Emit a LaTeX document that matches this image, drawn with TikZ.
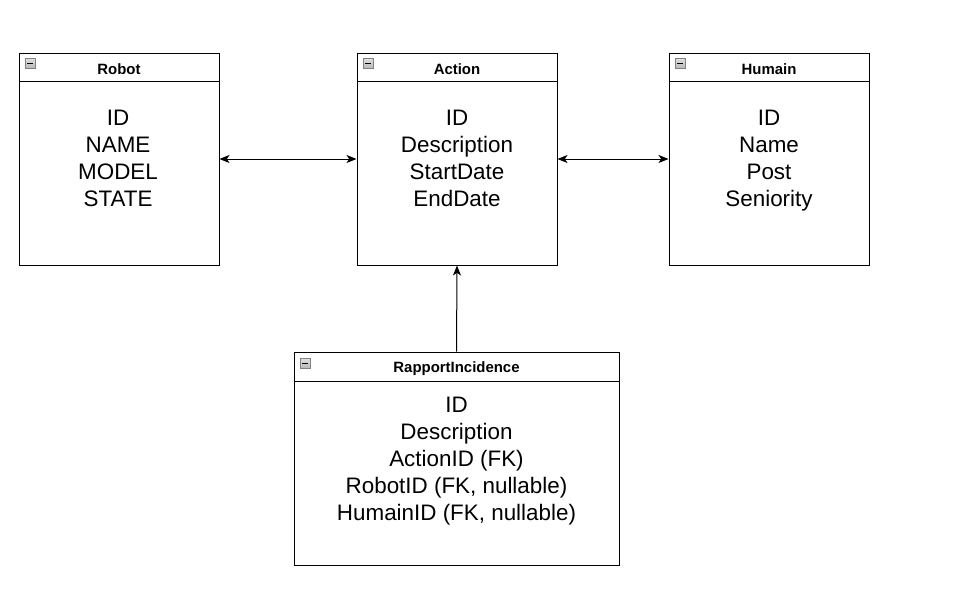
\documentclass[tikz,border=0pt]{standalone}
\usepackage{fontspec}
\setmainfont{Liberation Sans}
\usetikzlibrary{arrows.meta,calc}
\begin{document}
\begin{tikzpicture}[x=0.75pt,y=-0.75pt,
  entity/.style={draw=black,line width=0.75pt,fill=white,rectangle,inner sep=0pt,minimum width=150pt},
  ttl/.style={font=\bfseries\fontsize{11.2}{13}\selectfont,inner sep=0pt},
  body/.style={font=\fontsize{16.8}{20.25}\selectfont,align=center,inner sep=0pt},
  icon/.style={draw={rgb,255:red,130;green,130;blue,130},line width=0.75pt,top color={rgb,255:red,225;green,225;blue,225},bottom color={rgb,255:red,185;green,185;blue,185},rectangle,inner sep=0pt,minimum width=7.5pt,minimum height=7.5pt},
  link/.style={line width=0.75pt,{Stealth[length=7.5pt,width=6pt,inset=2pt]}-{Stealth[length=7.5pt,width=6pt,inset=2pt]}},
  uplink/.style={line width=0.75pt,-{Stealth[length=7.5pt,width=6pt,inset=2pt]}}
]
\useasboundingbox (0,0) rectangle (977,597);
\fill[white] (0,0) rectangle (977,597);

% Robot
\node[entity,minimum height=159pt] (robot) at (119,159) {};
\draw[line width=0.75pt] (19,81) -- (219,81);
\node[icon] (robotIcon) at (30,63) {};
\draw[line width=0.75pt] (27,63) -- (33,63);
\node[ttl] (robotT) at (119,69) {Robot};
\node[body] (robotB) at (118,162.5) {ID\\NAME\\MODEL\\STATE\strut};

% Action
\node[entity,minimum height=159pt] (action) at (457,159) {};
\draw[line width=0.75pt] (357,81) -- (557,81);
\node[icon] (actionIcon) at (368,63) {};
\draw[line width=0.75pt] (365,63) -- (371,63);
\node[ttl] (actionT) at (457,69) {Action};
\node[body] (actionB) at (457,162.5) {ID\\Description\\StartDate\\EndDate\strut};

% Humain
\node[entity,minimum height=159pt] (humain) at (769,159) {};
\draw[line width=0.75pt] (669,81) -- (869,81);
\node[icon] (humainIcon) at (680,63) {};
\draw[line width=0.75pt] (677,63) -- (683,63);
\node[ttl] (humainT) at (769,69) {Humain};
\node[body] (humainB) at (769,162.5) {ID\\Name\\Post\\Seniority\strut};

% RapportIncidence
\node[entity,minimum width=243.75pt,minimum height=159.75pt] (ri) at (456.5,458.5) {};
\draw[line width=0.75pt] (294,381) -- (619,381);
\node[icon] (riIcon) at (305,363) {};
\draw[line width=0.75pt] (302,363) -- (308,363);
\node[ttl] (riT) at (456.5,369) {RapportIncidence};
\node[body] (riB) at (456.5,462.5) {ID\\Description\\ActionID (FK)\\RobotID (FK, nullable)\\HumainID (FK, nullable)\strut};

% connectors
\draw[link] (robot.east) -- (action.west);
\draw[link] (action.east) -- (humain.west);
\draw[uplink] (ri.north) -- (action.south);
\end{tikzpicture}
\end{document}
